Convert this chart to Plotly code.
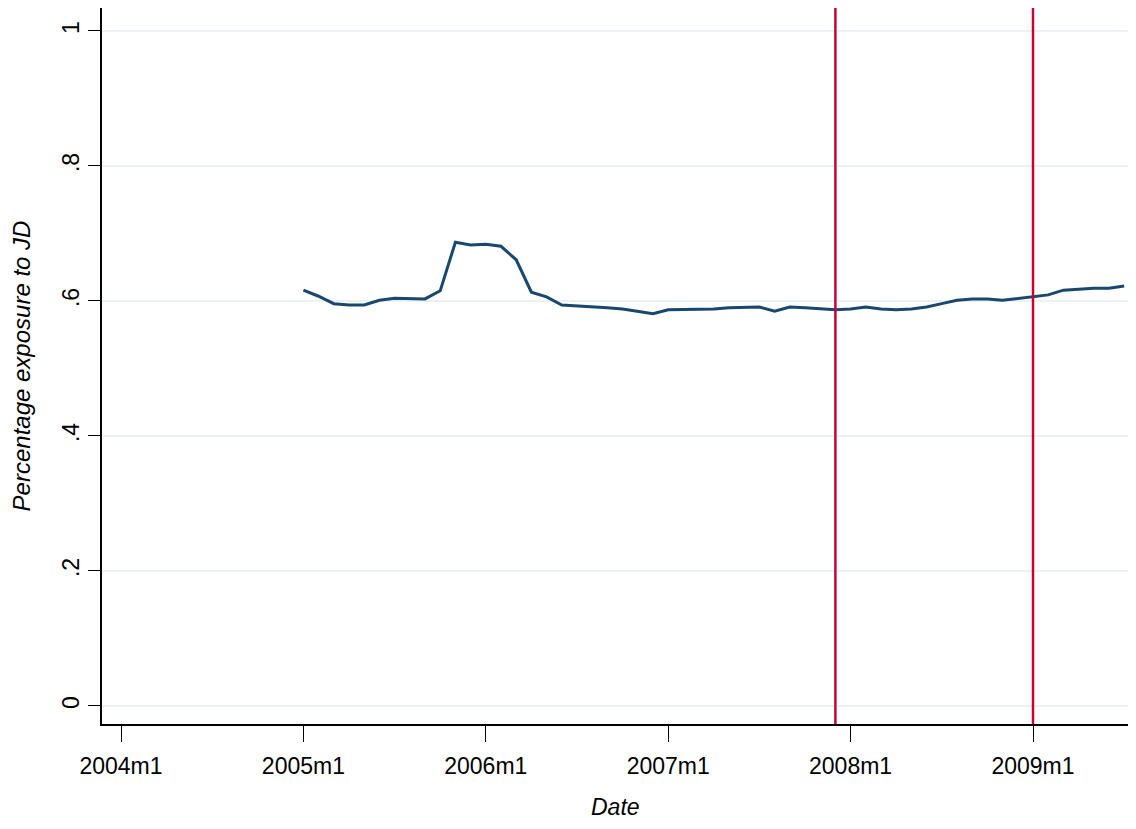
import plotly.graph_objects as go

# Months counted from 2004m1 (=0)
months = list(range(12, 67))
exposure = [0.616, 0.607, 0.596, 0.594, 0.594, 0.601, 0.604, 0.603, 0.603, 0.615,
            0.687, 0.683, 0.684, 0.681, 0.661, 0.613, 0.606, 0.594, 0.593, 0.592,
            0.590, 0.588, 0.584, 0.581, 0.587, 0.587, 0.588, 0.588, 0.590, 0.590,
            0.591, 0.585, 0.591, 0.590, 0.588, 0.587, 0.588, 0.591, 0.588, 0.587,
            0.588, 0.591, 0.596, 0.601, 0.603, 0.603, 0.601, 0.604, 0.607, 0.609,
            0.616, 0.618, 0.619, 0.619, 0.622]
event_months = [47, 60]
x_tick_vals = [0, 12, 24, 36, 48, 60]
x_tick_text = ["2004m1", "2005m1", "2006m1", "2007m1", "2008m1", "2009m1"]
y_tick_vals = [0, 0.2, 0.4, 0.6, 0.8, 1.0]
y_tick_text = ["0", ".2", ".4", ".6", ".8", "1"]

font_family = "Liberation Sans, Arial, sans-serif"

fig = go.Figure()
fig.add_trace(go.Scatter(x=months, y=exposure, mode="lines",
                         line=dict(color="#1a476f", width=3), showlegend=False))
for m in event_months:
    fig.add_vline(x=m, line=dict(color="#c10534", width=2.5))

fig.update_layout(
    width=1120, height=813,
    margin=dict(l=94, r=0, t=0, b=97),
    plot_bgcolor="white", paper_bgcolor="white",
    font=dict(family=font_family, color="black"),
    xaxis=dict(range=[-1.25, 66.25], tickvals=x_tick_vals, ticktext=x_tick_text,
               showgrid=False, zeroline=False, showline=True, linecolor="black",
               linewidth=1.5, ticks="outside", ticklen=16, tickwidth=1,
               tickcolor="black", tickfont=dict(size=23), automargin=False,
               ticklabelstandoff=5),
    yaxis=dict(range=[-0.0267, 1.034], tickvals=y_tick_vals, ticktext=y_tick_text,
               showgrid=True, gridcolor="#eaf2f3", gridwidth=2, zeroline=False,
               showline=True, linecolor="black", linewidth=1.5, ticks="outside",
               ticklen=12, tickwidth=1, tickcolor="black", tickangle=-90,
               tickfont=dict(size=23), automargin=False,
               title=dict(text="<i>Percentage exposure to JD</i>", font=dict(size=24),
                          standoff=28)),
    annotations=[dict(text="<i>Date</i>", xref="paper", yref="paper",
                      x=0.5, y=-0.1355, xanchor="center", yanchor="bottom",
                      borderpad=0, showarrow=False, font=dict(size=23))],
)

fig.write_html("out.html")
